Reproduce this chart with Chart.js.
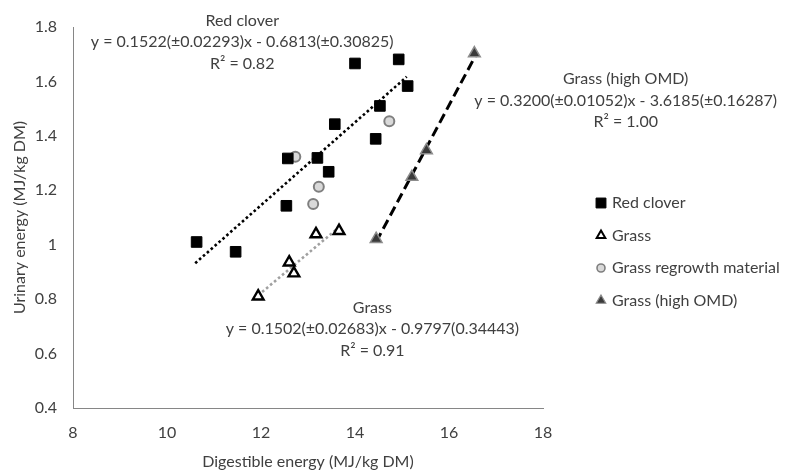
<!DOCTYPE html>
<html>
<head>
<meta charset="utf-8">
<script src="https://cdn.jsdelivr.net/npm/chart.js@4/dist/chart.umd.min.js"></script>
<style>
  html, body { margin: 0; padding: 0; background: #ffffff; }
  canvas { display: block; }
</style>
</head>
<body>
<canvas id="c" width="787" height="471"></canvas>
<script>
// ---- data ----
const seriesNames = ['Red clover', 'Grass', 'Grass regrowth material', 'Grass (high OMD)'];

const redCloverX = [10.63, 11.46, 12.54, 12.57, 13.20, 13.44, 13.57, 14.00, 14.44, 14.53, 14.93, 15.12];
const redCloverY = [1.010, 0.974, 1.143, 1.317, 1.319, 1.268, 1.443, 1.666, 1.389, 1.510, 1.681, 1.583];

const grassX = [11.94, 12.60, 12.70, 13.17, 13.66];
const grassY = [0.810, 0.935, 0.895, 1.039, 1.051];

const regrowthX = [12.73, 13.23, 13.11, 14.73];
const regrowthY = [1.323, 1.213, 1.150, 1.454];

const highOmdX = [14.45, 15.21, 15.52, 16.54];
const highOmdY = [1.021, 1.249, 1.347, 1.703];

// trend line end points
const redCloverFitX = [10.60, 15.10];
const redCloverFitY = [0.932, 1.617];
const grassFitX = [11.94, 13.66];
const grassFitY = [0.814, 1.064];
const highOmdFitX = [14.45, 16.58];
const highOmdFitY = [1.010, 1.700];

const xTickValues = [8, 10, 12, 14, 16, 18];
const yTickValues = [0.4, 0.6, 0.8, 1.0, 1.2, 1.4, 1.6, 1.8];
const yTickLabels = ['0.4', '0.6', '0.8', '1', '1.2', '1.4', '1.6', '1.8'];

const xTitle = 'Digestible energy (MJ/kg DM)';
const yTitle = 'Urinary energy (MJ/kg DM)';

// annotation text blocks: anchor (middle line) in data coordinates
const annRedClover = ['Red clover', 'y = 0.1522(±0.02293)x - 0.6813(±0.30825)', 'R² = 0.82'];
const annRedCloverAt = [11.60, 1.745];
const annGrass = ['Grass', 'y = 0.1502(±0.02683)x - 0.9797(0.34443)', 'R² = 0.91'];
const annGrassAt = [14.37, 0.690];
const annHighOmd = ['Grass (high OMD)', 'y = 0.3200(±0.01052)x - 3.6185(±0.16287)', 'R² = 1.00'];
const annHighOmdAt = [19.76, 1.530];

// ---- helpers ----
const zip = (xs, ys) => xs.map((x, i) => ({ x: x, y: ys[i] }));
const FONT = 'Lato, "Open Sans", sans-serif';
const TEXT = '#404040';
const FS = 16;

const styles = [
  { pointStyle: 'rect', radius: 7.5, bg: '#000000', border: '#000000', bw: 1 },
  { pointStyle: 'triangle', radius: 6.2, bg: '#ffffff', border: '#000000', bw: 2.4 },
  { pointStyle: 'circle', radius: 5, bg: '#d9d9d9', border: '#7f7f7f', bw: 2 },
  { pointStyle: 'triangle', radius: 6.8, bg: '#3a3a3a', border: '#8c8c8c', bw: 1.5 }
];
const legendStyles = [
  { pointStyle: 'rect', radius: 7, bg: '#000000', border: '#000000', bw: 1 },
  { pointStyle: 'triangle', radius: 5, bg: '#ffffff', border: '#000000', bw: 2 },
  { pointStyle: 'circle', radius: 4, bg: '#d9d9d9', border: '#7f7f7f', bw: 1.6 },
  { pointStyle: 'triangle', radius: 5.5, bg: '#3a3a3a', border: '#8c8c8c', bw: 1.2 }
];

const pointSets = [
  zip(redCloverX, redCloverY),
  zip(grassX, grassY),
  zip(regrowthX, regrowthY),
  zip(highOmdX, highOmdY)
];

const datasets = pointSets.map((pts, i) => ({
  label: seriesNames[i],
  data: pts,
  pointStyle: styles[i].pointStyle,
  pointRadius: styles[i].radius,
  pointBackgroundColor: styles[i].bg,
  pointBorderColor: styles[i].border,
  pointBorderWidth: styles[i].bw,
  showLine: false,
  order: 0
}));

datasets.push({
  label: 'fit-red', data: zip(redCloverFitX, redCloverFitY), showLine: true, pointRadius: 0,
  borderColor: '#000000', borderWidth: 2.6, borderDash: [2.6, 2.6], order: 1
});
datasets.push({
  label: 'fit-grass', data: zip(grassFitX, grassFitY), showLine: true, pointRadius: 0,
  borderColor: '#a0a0a0', borderWidth: 2.6, borderDash: [2.6, 2.6], order: 1
});
datasets.push({
  label: 'fit-omd', data: zip(highOmdFitX, highOmdFitY), showLine: true, pointRadius: 0,
  borderColor: '#000000', borderWidth: 3, borderDash: [10, 5], order: 1
});

function drawMarker(ctx, st, x, y) {
  ctx.save();
  ctx.fillStyle = st.bg;
  ctx.strokeStyle = st.border;
  ctx.lineWidth = st.bw;
  if (Chart.helpers && Chart.helpers.drawPoint) {
    Chart.helpers.drawPoint(ctx, { pointStyle: st.pointStyle, radius: st.radius, rotation: 0, borderWidth: st.bw }, x, y);
  }
  ctx.restore();
}

const overlay = {
  id: 'overlay',
  afterDraw(chart) {
    const ctx = chart.ctx;
    const xs = chart.scales.x, ys = chart.scales.y;
    ctx.save();
    ctx.fillStyle = TEXT;
    ctx.font = FS + 'px ' + FONT;
    ctx.textAlign = 'center';
    ctx.textBaseline = 'middle';
    const block = (lines, at) => {
      const cx = xs.getPixelForValue(at[0]);
      const cy = ys.getPixelForValue(at[1]);
      lines.forEach((t, i) => ctx.fillText(t, cx, cy + (i - 1) * 21.5));
    };
    block(annRedClover, annRedCloverAt);
    block(annGrass, annGrassAt);
    block(annHighOmd, annHighOmdAt);

    // legend
    const lx = 601, ly0 = 203, step = 32.5;
    ctx.textAlign = 'left';
    seriesNames.forEach((name, i) => {
      const y = ly0 + i * step;
      drawMarker(ctx, legendStyles[i], lx, y);
      ctx.fillStyle = TEXT;
      ctx.font = FS + 'px ' + FONT;
      ctx.fillText(name, lx + 11, y);
    });
    ctx.restore();
  }
};

new Chart(document.getElementById('c'), {
  type: 'scatter',
  data: { datasets: datasets },
  options: {
    responsive: false,
    animation: false,
    devicePixelRatio: 1,
    layout: { padding: { top: 27, right: 244, left: 0, bottom: 0 } },
    plugins: {
      legend: { display: false },
      tooltip: { enabled: false }
    },
    scales: {
      x: {
        type: 'linear',
        min: 8, max: 18,
        afterFit(s) { s.height = 63; },
        afterBuildTicks(s) { s.ticks = xTickValues.map(v => ({ value: v })); },
        grid: { display: false, drawTicks: false },
        border: { display: true, color: '#868686', width: 1 },
        ticks: { padding: 15, color: TEXT, font: { family: FONT, size: FS }, callback: v => String(v) },
        title: { display: true, text: xTitle, color: TEXT, font: { family: FONT, size: FS }, padding: { top: 0, bottom: 0 } }
      },
      y: {
        type: 'linear',
        min: 0.4, max: 1.8,
        afterFit(s) { s.width = 73; },
        afterBuildTicks(s) { s.ticks = yTickValues.map(v => ({ value: v })); },
        grid: { display: false, drawTicks: false },
        border: { display: true, color: '#868686', width: 1 },
        ticks: {
          padding: 16, color: TEXT, font: { family: FONT, size: FS },
          callback: (v) => { const k = yTickValues.findIndex(t => Math.abs(t - v) < 1e-6); return k >= 0 ? yTickLabels[k] : ''; }
        },
        title: { display: true, text: yTitle, color: TEXT, font: { family: FONT, size: FS }, padding: { top: 10, bottom: 0 } }
      }
    }
  },
  plugins: [overlay]
});
</script>
</body>
</html>
